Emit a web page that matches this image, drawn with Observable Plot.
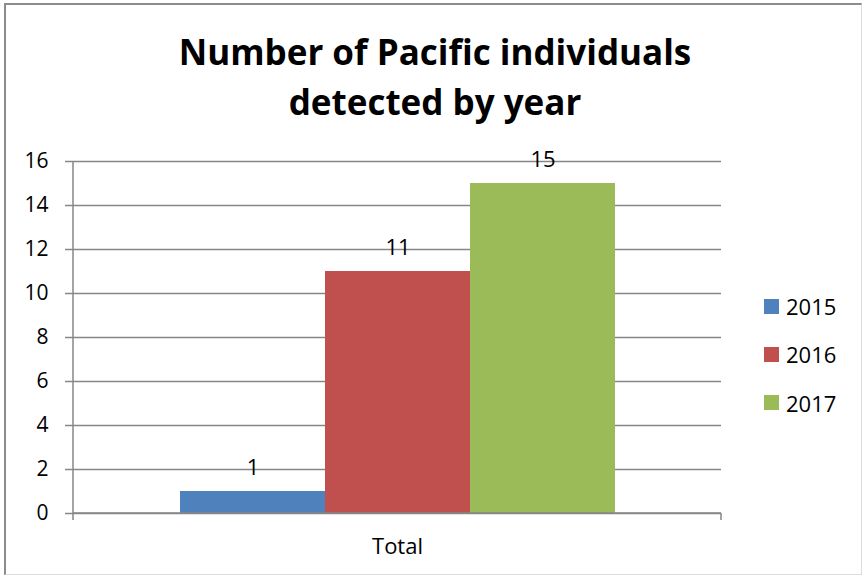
<!DOCTYPE html>
<html>
<head>
<meta charset="utf-8">
<script src="https://cdn.jsdelivr.net/npm/d3@7"></script>
<script src="https://cdn.jsdelivr.net/npm/@observablehq/plot@0.6"></script>
<style>
  html, body { margin: 0; padding: 0; background: #fff; }
  #chart { position: relative; width: 865px; height: 578px; overflow: hidden; font-family: "Open Sans", Lato, sans-serif; }
  #border { position: absolute; left: 4px; top: 3px; width: 858px; height: 572px; border: 1px solid #dcdcdc; border-left: 2px solid #8c8c8c; border-top: 2px solid #8c8c8c; box-sizing: border-box; }
  #title { position: absolute; left: 0; top: 27px; width: 870px; text-align: center; font-weight: 700; font-size: 35px; line-height: 50px; color: #000; }
  #plot { position: absolute; left: 0; top: 138px; }
  #legend { position: absolute; left: 764px; top: 282px; }
  .item { display: flex; align-items: center; height: 48.3px; font-size: 22px; color: #000; }
  .sw { width: 15px; height: 15px; margin-right: 7px; }
</style>
</head>
<body>
<div id="chart">
  <div id="border"></div>
  <div id="title">Number of Pacific individuals<br>detected by year</div>
  <div id="plot"></div>
  <div id="legend"></div>
</div>
<script>
const titleText = "Number of Pacific individuals detected by year";
const category = "Total";
const years = ["2015", "2016", "2017"];
const values = [1, 11, 15];
const colors = ["#4F81BD", "#C0504D", "#9BBB59"];
const yTicks = [0, 2, 4, 6, 8, 10, 12, 14, 16];

const data = years.map((y, i) => ({year: y, value: values[i], category}));

const axisFrame = (index, scales, values, dims) => {
  const g = d3.create("svg:g").attr("stroke", "#868686").attr("stroke-width", 1.5).attr("fill", "none");
  const l = dims.marginLeft, r = dims.width - dims.marginRight;
  const t = dims.marginTop, b = dims.height - dims.marginBottom;
  g.append("line").attr("x1", l).attr("x2", l).attr("y1", t).attr("y2", b + 7);
  g.append("line").attr("x1", l).attr("x2", r).attr("y1", b).attr("y2", b);
  g.append("line").attr("x1", r).attr("x2", r).attr("y1", b).attr("y2", b + 7);
  return g.node();
};

const plot = Plot.plot({
  width: 865,
  height: 440,
  marginLeft: 73,
  marginRight: 144,
  marginTop: 23,
  marginBottom: 65,
  style: {fontFamily: "'Open Sans', Lato, sans-serif", fontSize: "21px", color: "#000", background: "transparent"},
  x: {domain: years, paddingInner: 0, paddingOuter: 0.734, axis: null},
  y: {domain: [0, 16], ticks: yTicks, label: null},
  color: {domain: years, range: colors},
  marks: [
    Plot.gridY(yTicks, {stroke: "#868686", strokeOpacity: 1, strokeWidth: 1.5}),
    Plot.axisY(yTicks, {tickSize: 8, tickPadding: 17, stroke: "#868686", strokeWidth: 1.5, label: null, fontSize: 21, fill: "#000"}),
    Plot.barY(data, {x: "year", y: "value", fill: "year"}),
    axisFrame,
    Plot.text(data, {x: "year", y: "value", text: d => String(d.value), dy: -24, fontSize: 22, fill: "#000"}),
    Plot.text([category], {frameAnchor: "bottom", text: d => d, dy: 40, fontSize: 22, fill: "#000"})
  ]
});
document.getElementById("plot").appendChild(plot);

const legend = document.getElementById("legend");
years.forEach((y, i) => {
  const item = document.createElement("div");
  item.className = "item";
  const sw = document.createElement("div");
  sw.className = "sw";
  sw.style.background = colors[i];
  const lab = document.createElement("span");
  lab.textContent = y;
  item.appendChild(sw);
  item.appendChild(lab);
  legend.appendChild(item);
});
</script>
</body>
</html>
